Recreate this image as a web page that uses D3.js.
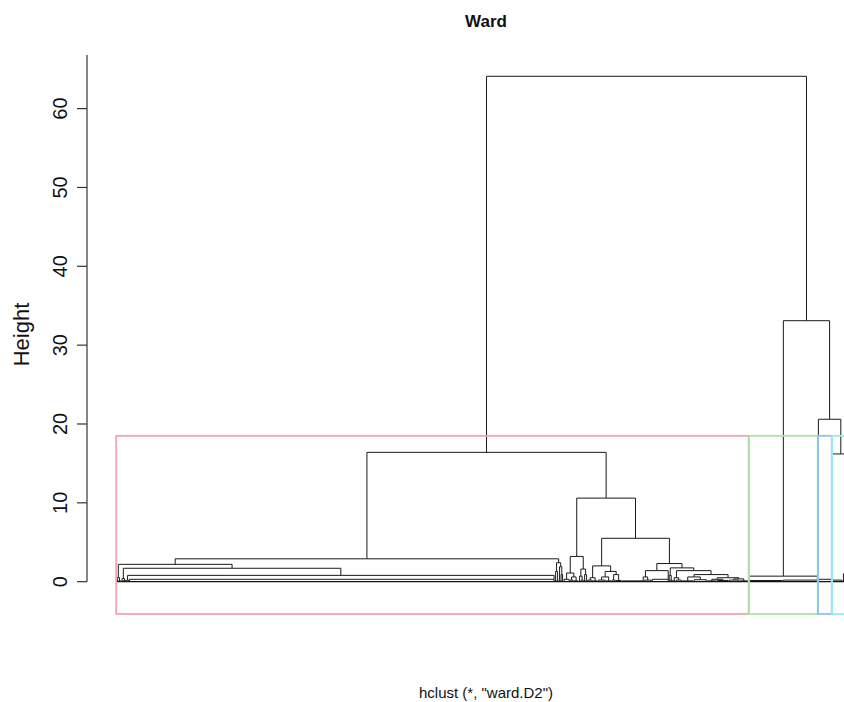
<!DOCTYPE html>
<html>
<head>
<meta charset="utf-8">
<script src="https://cdn.jsdelivr.net/npm/d3@7"></script>
<style>
body { margin: 0; background: #fff; }
text { font-family: "Liberation Sans", Arial, Helvetica, sans-serif; }
</style>
</head>
<body>
<svg id="chart" width="844" height="702"></svg>
<script>
// ---- data ----
const title = "Ward";
const subtitle = 'hclust (*, "ward.D2")';
const yLabel = "Height";
const yTicks = [0, 10, 20, 30, 40, 50, 60];
const yRange = [-4.1, 66.8];          // usr range of the R plot
const clusterColors = ["#F0A3B0", "#ABE5A2", "#8DC3F0", "#97EDED"];

// merge helpers: node(height, left, right), leaves(count, height, anchor -1 left / 0 mid / 1 right)
function node(h, l, r) { return { h: h, l: l, r: r }; }
function leaves(n, h, side) { return { n: n, h: h || 0, side: side || 0 }; }

// heights of the three top merges (root, then right branch)
const upperHeights = [64.1, 33.1, 20.6];

// cluster 1 (red)
const redTree = node(16.4,
    node(2.9,
        node(2.2,
            node(0.5, node(0.3, leaves(1), leaves(1)), leaves(3, 0.1)),
            node(1.7,
                node(0.4, leaves(2, 0.1), leaves(3, 0.15)),
                node(0.8, leaves(3, 0.2), leaves(425, 0.3, 1)))),
        node(2.4,
            node(1.3, leaves(2, 0.2), leaves(2, 0.1)),
            node(1.9, leaves(2, 0.2), node(0.9, leaves(1), leaves(2, 0.1))))),
    node(10.6,
        node(3.2,
            node(1.1, leaves(6, 0.3), node(0.6, leaves(4, 0.2), leaves(5, 0.1))),
            node(1.6,
                node(0.7, leaves(2, 0.1), leaves(3, 0.2)),
                node(0.9, leaves(2, 0.1), leaves(2, 0.2)))),
        node(5.5,
            node(2.0,
                node(0.5, leaves(5, 0.2), leaves(5, 0.1)),
                node(1.3,
                    node(0.6, leaves(8, 0.2), leaves(6, 0.1)),
                    node(0.9, leaves(4, 0.2), leaves(6, 0.15)))),
            node(2.3,
                node(1.4,
                    node(0.6, leaves(22, 0.1, 1), leaves(8, 0.2)),
                    leaves(17, 0.3, 1)),
                node(1.75,
                    node(0.8, leaves(1), leaves(3, 0.2)),
                    node(1.4,
                        node(0.5, leaves(3, 0.1), leaves(6, 0.2)),
                        node(0.9,
                            node(0.6, leaves(12, 0.1), leaves(13, 0.25)),
                            node(0.5,
                                node(0.3, leaves(10, 0.1), leaves(12, 0.15)),
                                node(0.35, leaves(10, 0.2), leaves(10, 0.1))))))))));

// cluster 2 (green)
const greenTree = node(0.7, leaves(34, 0.15, -1), leaves(35, 0.2, 1));

// cluster 3 (blue)
const blueTree = leaves(14, 0.3, -1);

// cluster 4 (cyan)
const cyanTree = node(16.2,
    leaves(10, 0.2, -1),
    node(2.5,
        node(1.0, leaves(3, 0.1), leaves(5, 0.2)),
        leaves(6, 0.2)));

const clusters = [redTree, greenTree, blueTree, cyanTree];
const root = node(upperHeights[0], redTree,
    node(upperHeights[1], greenTree, node(upperHeights[2], blueTree, cyanTree)));

// ---- layout (leaf order like plot.hclust: node x = mean of children) ----
let leafCount = 0;
function layout(d) {
    if (d.n !== undefined) {
        d.start = leafCount + 1;
        d.end = leafCount + d.n;
        leafCount += d.n;
        d.pos = d.side < 0 ? d.start : d.side > 0 ? d.end : (d.start + d.end) / 2;
        d.top = d.n > 1 ? d.h : 0;
        return;
    }
    layout(d.l);
    layout(d.r);
    d.start = d.l.start;
    d.end = d.r.end;
    d.pos = (d.l.pos + d.r.pos) / 2;
    d.top = d.h;
}
layout(root);
const N = leafCount;

// cut height for k = 4 groups
const allHeights = [];
(function collect(d) { if (d.n === undefined) { allHeights.push(d.h); collect(d.l); collect(d.r); } })(root);
allHeights.sort((a, b) => b - a);
const cutHeight = (allHeights[2] + allHeights[3]) / 2;

// ---- drawing ----
const svg = d3.select("#chart");
const plot = { left: 87, right: 885, top: 55, bottom: 614 };

const pad = 0.04 * (N - 1);
const x = d3.scaleLinear().domain([1 - pad, N + pad]).range([plot.left, plot.right]);
const y = d3.scaleLinear().domain(yRange).range([plot.bottom, plot.top]);

const g = svg.append("g");

// leaves hang down to 0
g.append("line")
    .attr("x1", x(1)).attr("x2", x(N))
    .attr("y1", y(0)).attr("y2", y(0))
    .attr("stroke", "#111").attr("stroke-width", 1.2);

const segs = [];
(function walk(d) {
    if (d.n !== undefined) {
        if (d.n > 1) {
            segs.push("M" + x(d.start) + "," + y(0) + "V" + y(d.h) + "H" + x(d.end) + "V" + y(0));
        }
        return;
    }
    segs.push("M" + x(d.l.pos) + "," + y(d.l.top) + "V" + y(d.h) + "H" + x(d.r.pos) + "V" + y(d.r.top));
    walk(d.l);
    walk(d.r);
})(root);

g.selectAll(".branch")
    .data(segs)
    .enter().append("path")
    .attr("class", "branch")
    .attr("d", d => d)
    .attr("fill", "none")
    .attr("stroke", "#1a1a1a")
    .attr("stroke-width", 1);

// rect.hclust boxes
g.selectAll(".box")
    .data(clusters)
    .enter().append("rect")
    .attr("class", "box")
    .attr("x", d => x(d.start - 0.34))
    .attr("width", d => x(d.end + 0.33) - x(d.start - 0.34))
    .attr("y", y(cutHeight))
    .attr("height", y(yRange[0]) - y(cutHeight))
    .attr("fill", "none")
    .attr("stroke", (d, i) => clusterColors[i])
    .attr("stroke-width", 1.8);

// y axis
const axis = svg.append("g");
axis.append("line")
    .attr("x1", plot.left).attr("x2", plot.left)
    .attr("y1", y(0)).attr("y2", y(yRange[1]))
    .attr("stroke", "#333").attr("stroke-width", 1.2);
axis.selectAll(".tick")
    .data(yTicks)
    .enter().append("line")
    .attr("x1", plot.left - 10).attr("x2", plot.left)
    .attr("y1", d => y(d)).attr("y2", d => y(d))
    .attr("stroke", "#333").attr("stroke-width", 1.2);
axis.selectAll(".tlab")
    .data(yTicks)
    .enter().append("text")
    .attr("transform", d => "translate(" + (plot.left - 20) + "," + y(d) + ") rotate(-90)")
    .attr("text-anchor", "middle")
    .attr("font-size", "20px")
    .attr("fill", "#111")
    .text(d => d);

svg.append("text")
    .attr("transform", "translate(29," + (plot.top + plot.bottom) / 2 + ") rotate(-90)")
    .attr("text-anchor", "middle")
    .attr("font-size", "22px")
    .attr("fill", "#111")
    .text(yLabel);

svg.append("text")
    .attr("x", (plot.left + plot.right) / 2)
    .attr("y", 27)
    .attr("text-anchor", "middle")
    .attr("font-size", "17px")
    .attr("font-weight", "bold")
    .attr("fill", "#111")
    .text(title);

svg.append("text")
    .attr("x", (plot.left + plot.right) / 2)
    .attr("y", 698)
    .attr("text-anchor", "middle")
    .attr("font-size", "15px")
    .attr("fill", "#111")
    .text(subtitle);
</script>
</body>
</html>
